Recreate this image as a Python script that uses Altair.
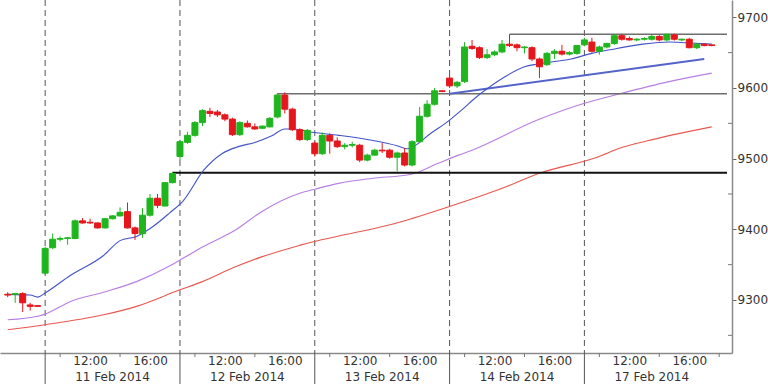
import altair as alt
import pandas as pd

# ---------------- data ----------------
# half-hour candles; slot 0 = 11 Feb 2014 09:00, 18 slots per trading day
slots = list(range(-5, 90))

opens = [
    9308, 9308, 9309, 9293, 9292,
    # 11 Feb
    9338, 9374, 9386, 9387, 9387, 9412, 9410, 9409, 9402, 9415, 9419, 9425, 9402, 9394, 9420, 9444, 9433, 9466,
    # 12 Feb
    9503, 9523, 9533, 9551, 9567, 9566, 9562, 9556, 9534, 9550, 9545, 9543, 9545, 9559, 9590, 9570, 9541, 9527,
    # 13 Feb
    9522, 9507, 9533, 9525, 9517, 9519, 9519, 9498, 9505, 9512, 9512, 9502, 9508, 9491, 9524, 9560, 9577, 9596,
    # 14 Feb
    9614, 9603, 9609, 9659, 9657, 9643, 9647, 9651, 9662, 9661, 9657, 9657, 9641, 9633, 9649, 9652, 9648, 9649,
    # 17 Feb
    9661, 9665, 9652, 9658, 9663, 9674, 9670, 9668, 9669, 9669, 9673, 9668, 9675, 9668, 9669, 9657, 9662, 9661,
]
highs = [
    9311, 9310, 9311, 9296, 9293,
    9375, 9394, 9390, 9389, 9414, 9416, 9415, 9410, 9416, 9420, 9431, 9438, 9404, 9430, 9450, 9450, 9467, 9481,
    9526, 9538, 9553, 9570, 9572, 9569, 9564, 9558, 9553, 9554, 9550, 9547, 9559, 9593, 9594, 9572, 9543, 9542,
    9524, 9537, 9536, 9530, 9522, 9524, 9521, 9507, 9514, 9522, 9514, 9510, 9515, 9526, 9573, 9583, 9600, 9597,
    9618, 9610, 9665, 9668, 9659, 9655, 9653, 9668, 9676, 9663, 9659, 9659, 9643, 9651, 9655, 9661, 9652, 9661,
    9671, 9671, 9660, 9664, 9676, 9676, 9673, 9671, 9672, 9675, 9675, 9677, 9677, 9670, 9671, 9663, 9663, 9661,
]
lows = [
    9304, 9296, 9283, 9285, 9291,
    9336, 9372, 9383, 9378, 9386, 9408, 9408, 9401, 9401, 9414, 9418, 9401, 9385, 9388, 9418, 9430, 9432, 9465,
    9498, 9521, 9531, 9546, 9559, 9559, 9553, 9532, 9532, 9544, 9541, 9542, 9544, 9557, 9564, 9539, 9525, 9525,
    9503, 9505, 9507, 9515, 9513, 9516, 9495, 9496, 9504, 9508, 9500, 9482, 9489, 9489, 9522, 9558, 9575, 9594,
    9600, 9600, 9607, 9654, 9641, 9641, 9645, 9649, 9658, 9652, 9649, 9638, 9614, 9631, 9641, 9646, 9646, 9647,
    9659, 9650, 9647, 9656, 9661, 9667, 9667, 9666, 9667, 9667, 9666, 9666, 9667, 9666, 9656, 9655, 9659, 9659,
]
closes = [
    9307, 9309, 9296, 9291, 9291,
    9373, 9386, 9387, 9388, 9412, 9409, 9409, 9402, 9415, 9419, 9424, 9402, 9394, 9420, 9444, 9434, 9466, 9479,
    9524, 9533, 9551, 9568, 9564, 9562, 9556, 9534, 9551, 9545, 9542, 9546, 9557, 9590, 9570, 9541, 9527, 9540,
    9507, 9533, 9525, 9517, 9519, 9520, 9498, 9505, 9512, 9511, 9502, 9508, 9491, 9524, 9560, 9577, 9596, 9595,
    9603, 9608, 9658, 9656, 9643, 9647, 9651, 9662, 9660, 9657, 9658, 9641, 9630, 9649, 9652, 9648, 9650, 9660,
    9668, 9652, 9658, 9663, 9674, 9669, 9668, 9669, 9670, 9673, 9668, 9676, 9669, 9669, 9657, 9662, 9660, 9660,
]

# moving averages (at these slots)
ma_fast_slot = [-5, -2, -1, 0, 3.4, 7.8, 10, 12.2, 14.4, 16.6, 18.4, 21.2, 23.6, 25.8, 28, 30.2, 32, 33.3,
                35.2, 39.2, 43.6, 47.1, 48.4, 49.3, 51.5, 53.7, 55.4, 57.9, 61.4, 64, 65.8, 70.2, 73, 75.4,
                79.8, 83.3, 85.5, 89]
ma_fast_val = [9308, 9307, 9304, 9310, 9335, 9363, 9384, 9390, 9404, 9423, 9440, 9484, 9507, 9517, 9523, 9532,
               9542, 9542, 9538, 9533, 9526, 9518, 9514, 9518, 9536, 9552, 9567, 9590, 9616, 9630, 9634, 9641,
               9649, 9654, 9662, 9665, 9664, 9662]

ma_mid_slot = [-5, -1, 0, 3.4, 7.8, 12.2, 16.6, 18.4, 21, 25.4, 28.9, 34, 36.1, 39.2, 43.6, 48.9, 52.4, 55.2,
               57, 65.8, 71.9, 76.8, 83.3, 89]
ma_mid_val = [9272, 9277, 9280, 9298, 9311, 9326, 9348, 9359, 9375, 9399, 9425, 9451, 9457, 9465, 9472, 9478,
              9493, 9505, 9512, 9555, 9578, 9592, 9609, 9621]

ma_slow_slot = [-5, 0, 7.8, 12.2, 17.9, 21, 25.4, 28.9, 34.2, 47.3, 53.9, 60.5, 66.2, 73.7, 76.8, 80.3, 89]
ma_slow_val = [9258, 9265, 9279, 9291, 9314, 9326, 9347, 9361, 9378, 9410, 9432, 9456, 9480, 9502, 9515, 9525,
               9545]

trend_slot = [54, 88]
trend_val = [9592, 9641]

support_start = [17]
support_val = [9480]
resist_start = [31, 62]
resist_val = [9592, 9676]

day_start = [0, 18, 36, 54, 72]
day_center = [9, 27, 45, 63, 81]
day_labels = ["11 Feb 2014", "12 Feb 2014", "13 Feb 2014", "14 Feb 2014", "17 Feb 2014"]
time_label_slots = [6, 14, 24, 32, 42, 50, 60, 68, 78, 86]
time_labels = ["12:00", "16:00"]
minor_tick_slots = [2, 10, 20, 28, 38, 46, 56, 64, 74, 82, 90]
y_ticks = [9300, 9400, 9500, 9600, 9700]
y_minor = [9250, 9350, 9450, 9550, 9650]

X_DOMAIN = [-5.36, 91.04]
Y_DOMAIN = [9225, 9724.5]

# ---------------- styles ----------------
GREEN = "#1fb51f"
RED = "#e5161c"
FONT = "DejaVu Sans"
W, H = 732, 353

xs = alt.Scale(domain=X_DOMAIN, nice=False, zero=False)
ys = alt.Scale(domain=Y_DOMAIN, nice=False, zero=False)

candles = pd.DataFrame({"slot": slots, "open": opens, "high": highs, "low": lows, "close": closes})
candles["dir"] = ["up" if c >= o else "down" for o, c in zip(opens, closes)]
col_scale = alt.Scale(domain=["up", "down"], range=[GREEN, RED])

x_axis = alt.Axis(
    values=time_label_slots,
    labelExpr=f"(datum.value % 18) == 6 ? '{time_labels[0]}' : '{time_labels[1]}'",
    ticks=False, grid=False, domainColor="#8a8a8a", domainWidth=1.5,
    labelFont=FONT, labelFontSize=12, labelColor="#333333", labelPadding=2,
    labelFlush=False, title=None,
)
y_axis = alt.Axis(
    orient="right", values=y_ticks, format="d", grid=False,
    tickSize=4, tickColor="#666666", domainColor="#8a8a8a", domainWidth=1.5,
    labelFont=FONT, labelFontSize=12, labelColor="#333333", labelPadding=1, title=None,
)


def X(field):
    return alt.X(field, scale=xs, axis=x_axis)


def Y(field):
    return alt.Y(field, scale=ys, axis=y_axis)


base = alt.Chart(candles)
wicks = base.mark_rule(strokeWidth=1).encode(
    x=X("slot:Q"),
    y=Y("low:Q"),
    y2="high:Q",
    color=alt.Color("dir:N", scale=col_scale, legend=None),
)
bodies = base.mark_bar(size=6, strokeWidth=1).encode(
    x=X("slot:Q"),
    y=Y("open:Q"),
    y2="close:Q",
    color=alt.Color("dir:N", scale=col_scale, legend=None),
    stroke=alt.Stroke("dir:N", scale=col_scale, legend=None),
)


def line_layer(sl, vals, color, width, interp="monotone"):
    df = pd.DataFrame({"slot": sl, "val": vals})
    return alt.Chart(df).mark_line(color=color, strokeWidth=width, interpolate=interp).encode(
        x=X("slot:Q"), y=Y("val:Q"),
    )


ma_slow = line_layer(ma_slow_slot, ma_slow_val, "#e8574f", 1.1)
ma_mid = line_layer(ma_mid_slot, ma_mid_val, "#b77ee3", 1.1)
ma_fast = line_layer(ma_fast_slot, ma_fast_val, "#4352c8", 1.1)
trend = line_layer(trend_slot, trend_val, "#5564c8", 2, "linear")


def level_layer(starts, vals, color, width):
    df = pd.DataFrame({"start": starts, "end": [X_DOMAIN[1]] * len(starts), "val": vals})
    return alt.Chart(df).mark_rule(color=color, strokeWidth=width).encode(
        x=X("start:Q"), x2="end:Q", y=Y("val:Q"),
    )


support = level_layer(support_start, support_val, "#111111", 2)
resist = level_layer(resist_start, resist_val, "#6e6e6e", 1.5)

days = pd.DataFrame({"slot": day_start})
sep_dash = alt.Chart(days).mark_rule(color="#555555", strokeWidth=1, strokeDash=[6, 4]).encode(
    x=X("slot:Q"),
)
sep_below = alt.Chart(days).mark_rule(color="#555555", strokeWidth=1).encode(
    x=X("slot:Q"),
    y=alt.value(H), y2=alt.value(H + 31),
)

ticks = alt.Chart(pd.DataFrame({"slot": minor_tick_slots})).mark_rule(color="#777777", strokeWidth=1).encode(
    x=X("slot:Q"),
    y=alt.value(H), y2=alt.value(H + 4),
)

y_minor_ticks = alt.Chart(pd.DataFrame({"val": y_minor})).mark_rule(color="#777777", strokeWidth=1).encode(
    y=Y("val:Q"),
    x=alt.value(W - 4), x2=alt.value(W),
)

date_text = alt.Chart(pd.DataFrame({"slot": day_center, "label": day_labels})).mark_text(
    font=FONT, fontSize=12, color="#333333", baseline="middle", align="center"
).encode(
    x=X("slot:Q"),
    y=alt.value(H + 24),
    text="label:N",
)

chart = alt.layer(
    sep_dash, sep_below, ticks, y_minor_ticks,
    ma_slow, ma_mid, support, resist, trend, ma_fast,
    wicks, bodies, date_text,
).properties(
    width=W, height=H,
    autosize=alt.AutoSizeParams(type="none"),
    padding={"left": 0, "top": 0, "right": 36, "bottom": 31},
    background="white",
).configure_view(stroke=None)

chart.save("out.html", embed_options={"renderer": "svg", "actions": False})
